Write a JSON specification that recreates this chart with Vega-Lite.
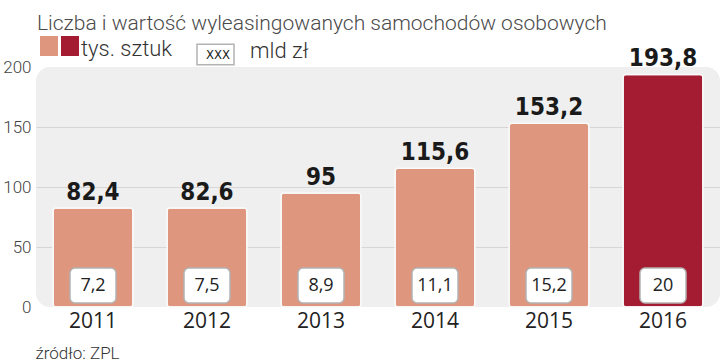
{
  "$schema": "https://vega.github.io/schema/vega-lite/v6.json",
  "width": 684,
  "height": 240,
  "autosize": {"type": "none"},
  "padding": {"left": 36, "top": 67, "right": 0, "bottom": 55},
  "background": "white",
  "title": {
    "text": "Liczba i wartość wyleasingowanych samochodów osobowych",
    "anchor": "start",
    "frame": "group",
    "orient": "top",
    "baseline": "alphabetic",
    "offset": -16,
    "dx": 1,
    "font": "Roboto",
    "fontWeight": 300,
    "fontSize": 21,
    "color": "#4a4a4a"
  },
  "config": {"view": {"fill": "#efefef", "stroke": null, "cornerRadius": 14}},
  "data": {
    "values": [
      {"year": "2011", "tys": 82.4, "tys_label": "82,4", "mld_label": "7,2", "group": "a"},
      {"year": "2012", "tys": 82.6, "tys_label": "82,6", "mld_label": "7,5", "group": "a"},
      {"year": "2013", "tys": 95, "tys_label": "95", "mld_label": "8,9", "group": "a"},
      {"year": "2014", "tys": 115.6, "tys_label": "115,6", "mld_label": "11,1", "group": "a"},
      {"year": "2015", "tys": 153.2, "tys_label": "153,2", "mld_label": "15,2", "group": "a"},
      {"year": "2016", "tys": 193.8, "tys_label": "193,8", "mld_label": "20", "group": "b"}
    ]
  },
  "encoding": {
    "x": {
      "field": "year",
      "type": "nominal",
      "scale": {"paddingInner": 0.3, "paddingOuter": 0.15},
      "axis": {
        "title": "źródło: ZPL",
        "titleAnchor": "start",
        "titleAlign": "left",
        "titleX": -1,
        "titleY": 51,
        "titleBaseline": "alphabetic",
        "titleFont": "Roboto",
        "titleFontSize": 17,
        "titleFontWeight": 300,
        "titleColor": "#333",
        "labelFont": "Open Sans",
        "labelFontSize": 21,
        "labelColor": "#222",
        "labelPadding": 3,
        "labelAngle": 0,
        "ticks": false,
        "domain": false
      }
    }
  },
  "layer": [
    {
      "mark": {"type": "bar", "cornerRadius": 3, "stroke": "#fafafa", "strokeWidth": 1.5},
      "encoding": {
        "y": {
          "field": "tys",
          "type": "quantitative",
          "scale": {"domain": [0, 200], "nice": false},
          "axis": {
            "title": null,
            "values": [0, 50, 100, 150, 200],
            "labelFont": "Roboto",
            "labelFontWeight": 300,
            "labelFontSize": 17,
            "labelColor": "#444",
            "labelPadding": 5,
            "ticks": false,
            "domain": false,
            "gridColor": "#d6d6d6",
            "gridOpacity": {"condition": {"test": "datum.value == 0 || datum.value == 200", "value": 0}, "value": 1}
          }
        },
        "fill": {
          "field": "group",
          "type": "nominal",
          "scale": {"domain": ["a", "b"], "range": ["#df967f", "#a31c32"]},
          "legend": {
            "orient": "none",
            "legendX": 3,
            "legendY": -31,
            "direction": "horizontal",
            "title": "tys. sztuk",
            "titleOrient": "right",
            "titleAnchor": "end",
            "titleBaseline": "alphabetic",
            "titleFont": "Roboto",
            "titleFontWeight": 300,
            "titleFontSize": 22,
            "titleColor": "#333",
            "titlePadding": 1,
            "labelExpr": "''",
            "labelOffset": 0,
            "columnPadding": 1,
            "symbolType": "M-0.9,-1H0.9V1H-0.9Z",
            "symbolSize": 400,
            "symbolStrokeWidth": 0,
            "padding": 0
          }
        }
      }
    },
    {
      "mark": {"type": "text", "font": "DejaVu Sans Condensed, Roboto Condensed, Roboto", "fontWeight": "bold", "fontSize": 24, "baseline": "alphabetic", "dy": -8, "color": "#1a1a1a"},
      "encoding": {
        "y": {"field": "tys", "type": "quantitative"},
        "text": {"field": "tys_label"}
      }
    },
    {
      "mark": {"type": "bar", "width": 46, "fill": "white", "strokeWidth": 1.5, "cornerRadius": 5},
      "encoding": {
        "y": {"datum": 32.5},
        "y2": {"datum": 3.3},
        "stroke": {
          "datum": "mld zł",
          "scale": {"range": ["#b3b3b3"]},
          "legend": {
            "orient": "none",
            "legendX": 160,
            "legendY": -32,
            "title": "mld zł",
            "titleOrient": "right",
            "titlePadding": 13,
            "titleFont": "Roboto",
            "titleFontWeight": 300,
            "titleFontSize": 22,
            "titleColor": "#333",
            "labelExpr": "'XXX'",
            "labelFont": "DejaVu Sans Condensed, Roboto Condensed, Roboto",
            "labelFontSize": 13,
            "labelColor": "#222",
            "labelOffset": -29,
            "symbolType": "M-1,-0.56H1V0.56H-1Z",
            "symbolSize": 1369,
            "symbolFillColor": "white",
            "symbolStrokeWidth": 1.5,
            "padding": 0
          }
        }
      }
    },
    {
      "mark": {"type": "text", "font": "Open Sans", "fontSize": 18, "baseline": "middle", "color": "#222"},
      "encoding": {
        "y": {"datum": 17.5},
        "text": {"field": "mld_label"}
      }
    }
  ]
}
